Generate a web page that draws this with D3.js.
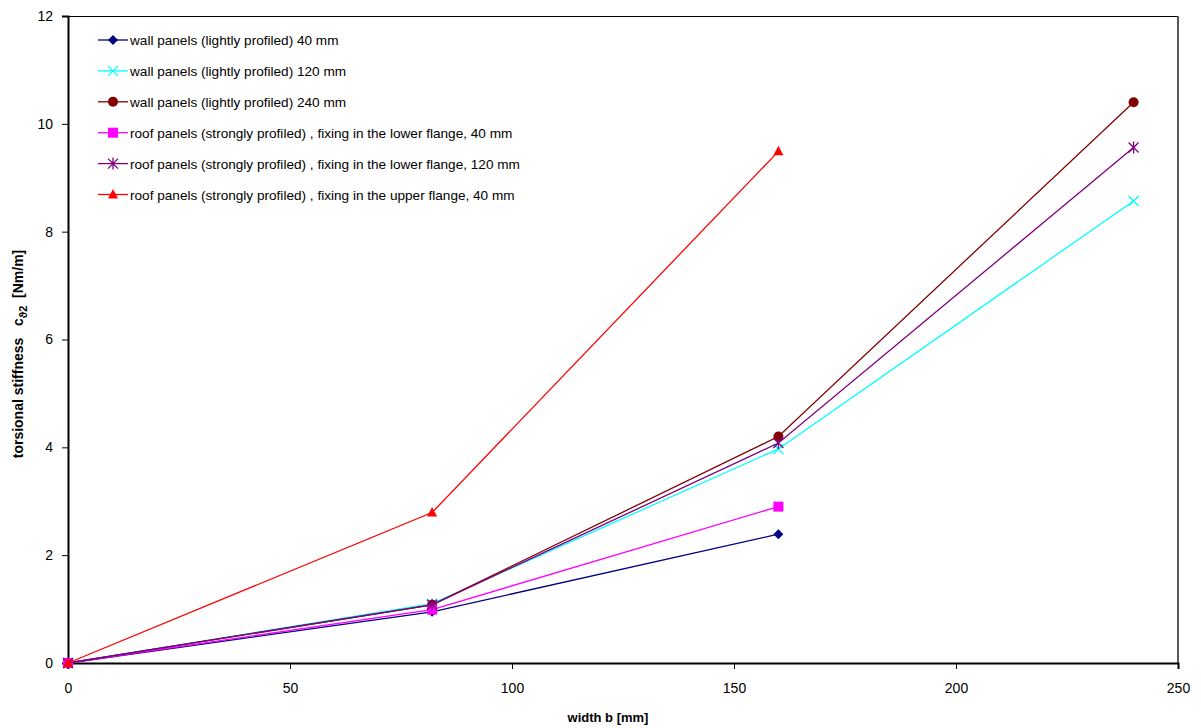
<!DOCTYPE html>
<html>
<head>
<meta charset="utf-8">
<script src="https://cdn.jsdelivr.net/npm/d3@7"></script>
<style>
  html, body { margin: 0; padding: 0; background: #fff; }
  svg { display: block; font-family: "Liberation Sans", Arial, sans-serif; }
</style>
</head>
<body>
<svg id="chart" width="1201" height="728"></svg>
<script>
// Panel width b [mm] at which stiffness was measured
const widths = [0, 82, 160, 240];

const seriesNames = [
  "wall panels (lightly profiled) 40 mm",
  "wall panels (lightly profiled) 120 mm",
  "wall panels (lightly profiled) 240 mm",
  "roof panels (strongly profiled) , fixing in the lower flange, 40 mm",
  "roof panels (strongly profiled) , fixing in the lower flange, 120 mm",
  "roof panels (strongly profiled) , fixing in the upper flange, 40 mm"
];

// Torsional stiffness values [Nm/m]; null = not measured
const wall40   = [0, 0.95, 2.39, null];
const wall120  = [0, 1.10, 3.97, 8.57];
const wall240  = [0, 1.08, 4.20, 10.40];
const roofLo40 = [0, 0.99, 2.90, null];
const roofLo120= [0, 1.08, 4.08, 9.56];
const roofUp40 = [0, 2.79, 9.49, null];

const seriesValues = [wall40, wall120, wall240, roofLo40, roofLo120, roofUp40];
const seriesColors = ["#000080", "#00FFFF", "#800000", "#FF00FF", "#800080", "#FF0000"];
const seriesMarkers = ["diamond", "x", "circle", "square", "star", "triangle"];

const xTicks = [0, 50, 100, 150, 200, 250];
const yTicks = [0, 2, 4, 6, 8, 10, 12];

const svg = d3.select("#chart");
const plotLeft = 68, plotRight = 1178, plotTop = 16, plotBottom = 663;

const x = d3.scaleLinear().domain([0, 250]).range([plotLeft, plotRight]);
const y = d3.scaleLinear().domain([0, 12]).range([plotBottom, plotTop]);

// plot frame: thin top line, grey right edge
svg.append("line").attr("x1", plotLeft).attr("x2", plotRight).attr("y1", plotTop + 0.5).attr("y2", plotTop + 0.5)
  .attr("stroke", "#000").attr("stroke-width", 1);
svg.append("line").attr("x1", plotRight).attr("x2", plotRight).attr("y1", plotTop).attr("y2", plotBottom)
  .attr("stroke", "#5a5a5a").attr("stroke-width", 2);

// axes
const xAxis = svg.append("g").attr("transform", `translate(0,${plotBottom})`)
  .call(d3.axisBottom(x).tickValues(xTicks).tickSize(6).tickPadding(14).tickFormat(d3.format("d")));
const yAxis = svg.append("g").attr("transform", `translate(${plotLeft},0)`)
  .call(d3.axisLeft(y).tickValues(yTicks).tickSize(6).tickPadding(9).tickFormat(d3.format("d")));

[xAxis, yAxis].forEach(g => {
  g.select(".domain").attr("stroke", "#000").attr("stroke-width", 2);
  g.selectAll(".tick line").attr("stroke", "#000").attr("stroke-width", 1);
  g.selectAll(".tick text").attr("font-size", 14).attr("fill", "#000")
    .attr("font-family", "'Liberation Sans', Arial, sans-serif");
});

// axis titles
svg.append("text").attr("x", 608).attr("y", 722).attr("text-anchor", "middle")
  .attr("font-size", 13).attr("font-weight", "bold").text("width b [mm]");

const yt = svg.append("text").attr("transform", "translate(23,354) rotate(-90)")
  .attr("text-anchor", "middle").attr("font-size", 14).attr("font-weight", "bold")
  .style("white-space", "pre");
yt.append("tspan").text("torsional stiffness   c");
yt.append("tspan").attr("font-size", 11).attr("dy", 4).text("ϑ2");
yt.append("tspan").attr("dy", -4).text("  [Nm/m]");

// marker drawing
function drawMarker(g, type, color) {
  switch (type) {
    case "diamond":
      g.append("path").attr("d", "M0,-5L5,0L0,5L-5,0Z").attr("fill", color); break;
    case "x":
      g.append("path").attr("d", "M-5,-5L5,5M-5,5L5,-5").attr("stroke", color).attr("stroke-width", 1.3).attr("fill", "none"); break;
    case "circle":
      g.append("circle").attr("r", 5).attr("fill", color); break;
    case "square":
      g.append("rect").attr("x", -5).attr("y", -5).attr("width", 10).attr("height", 10).attr("fill", color); break;
    case "star":
      g.append("path").attr("d", "M-5,-5L5,5M-5,5L5,-5M0,-6L0,6").attr("stroke", color).attr("stroke-width", 1.3).attr("fill", "none"); break;
    case "triangle":
      g.append("path").attr("d", "M0,-5.5L5,4L-5,4Z").attr("fill", color); break;
  }
}

const line = d3.line().defined(d => d.v !== null).x(d => x(d.w)).y(d => y(d.v));

seriesValues.forEach((vals, i) => {
  const pts = widths.map((w, j) => ({ w, v: vals[j] }));
  svg.append("path").datum(pts).attr("d", line)
    .attr("fill", "none").attr("stroke", seriesColors[i]).attr("stroke-width", 1.3);
  pts.filter(p => p.v !== null).forEach(p => {
    const g = svg.append("g").attr("transform", `translate(${x(p.w)},${y(p.v)})`);
    drawMarker(g, seriesMarkers[i], seriesColors[i]);
  });
});

// legend
const legend = svg.append("g");
seriesNames.forEach((name, i) => {
  const ly = 40 + i * 30.9;
  legend.append("line").attr("x1", 98).attr("x2", 128).attr("y1", ly).attr("y2", ly)
    .attr("stroke", seriesColors[i]).attr("stroke-width", 1.3);
  const g = legend.append("g").attr("transform", `translate(113,${ly})`);
  drawMarker(g, seriesMarkers[i], seriesColors[i]);
  legend.append("text").attr("x", 130).attr("y", ly + 5).attr("font-size", 13.6).text(name);
});
</script>
</body>
</html>
